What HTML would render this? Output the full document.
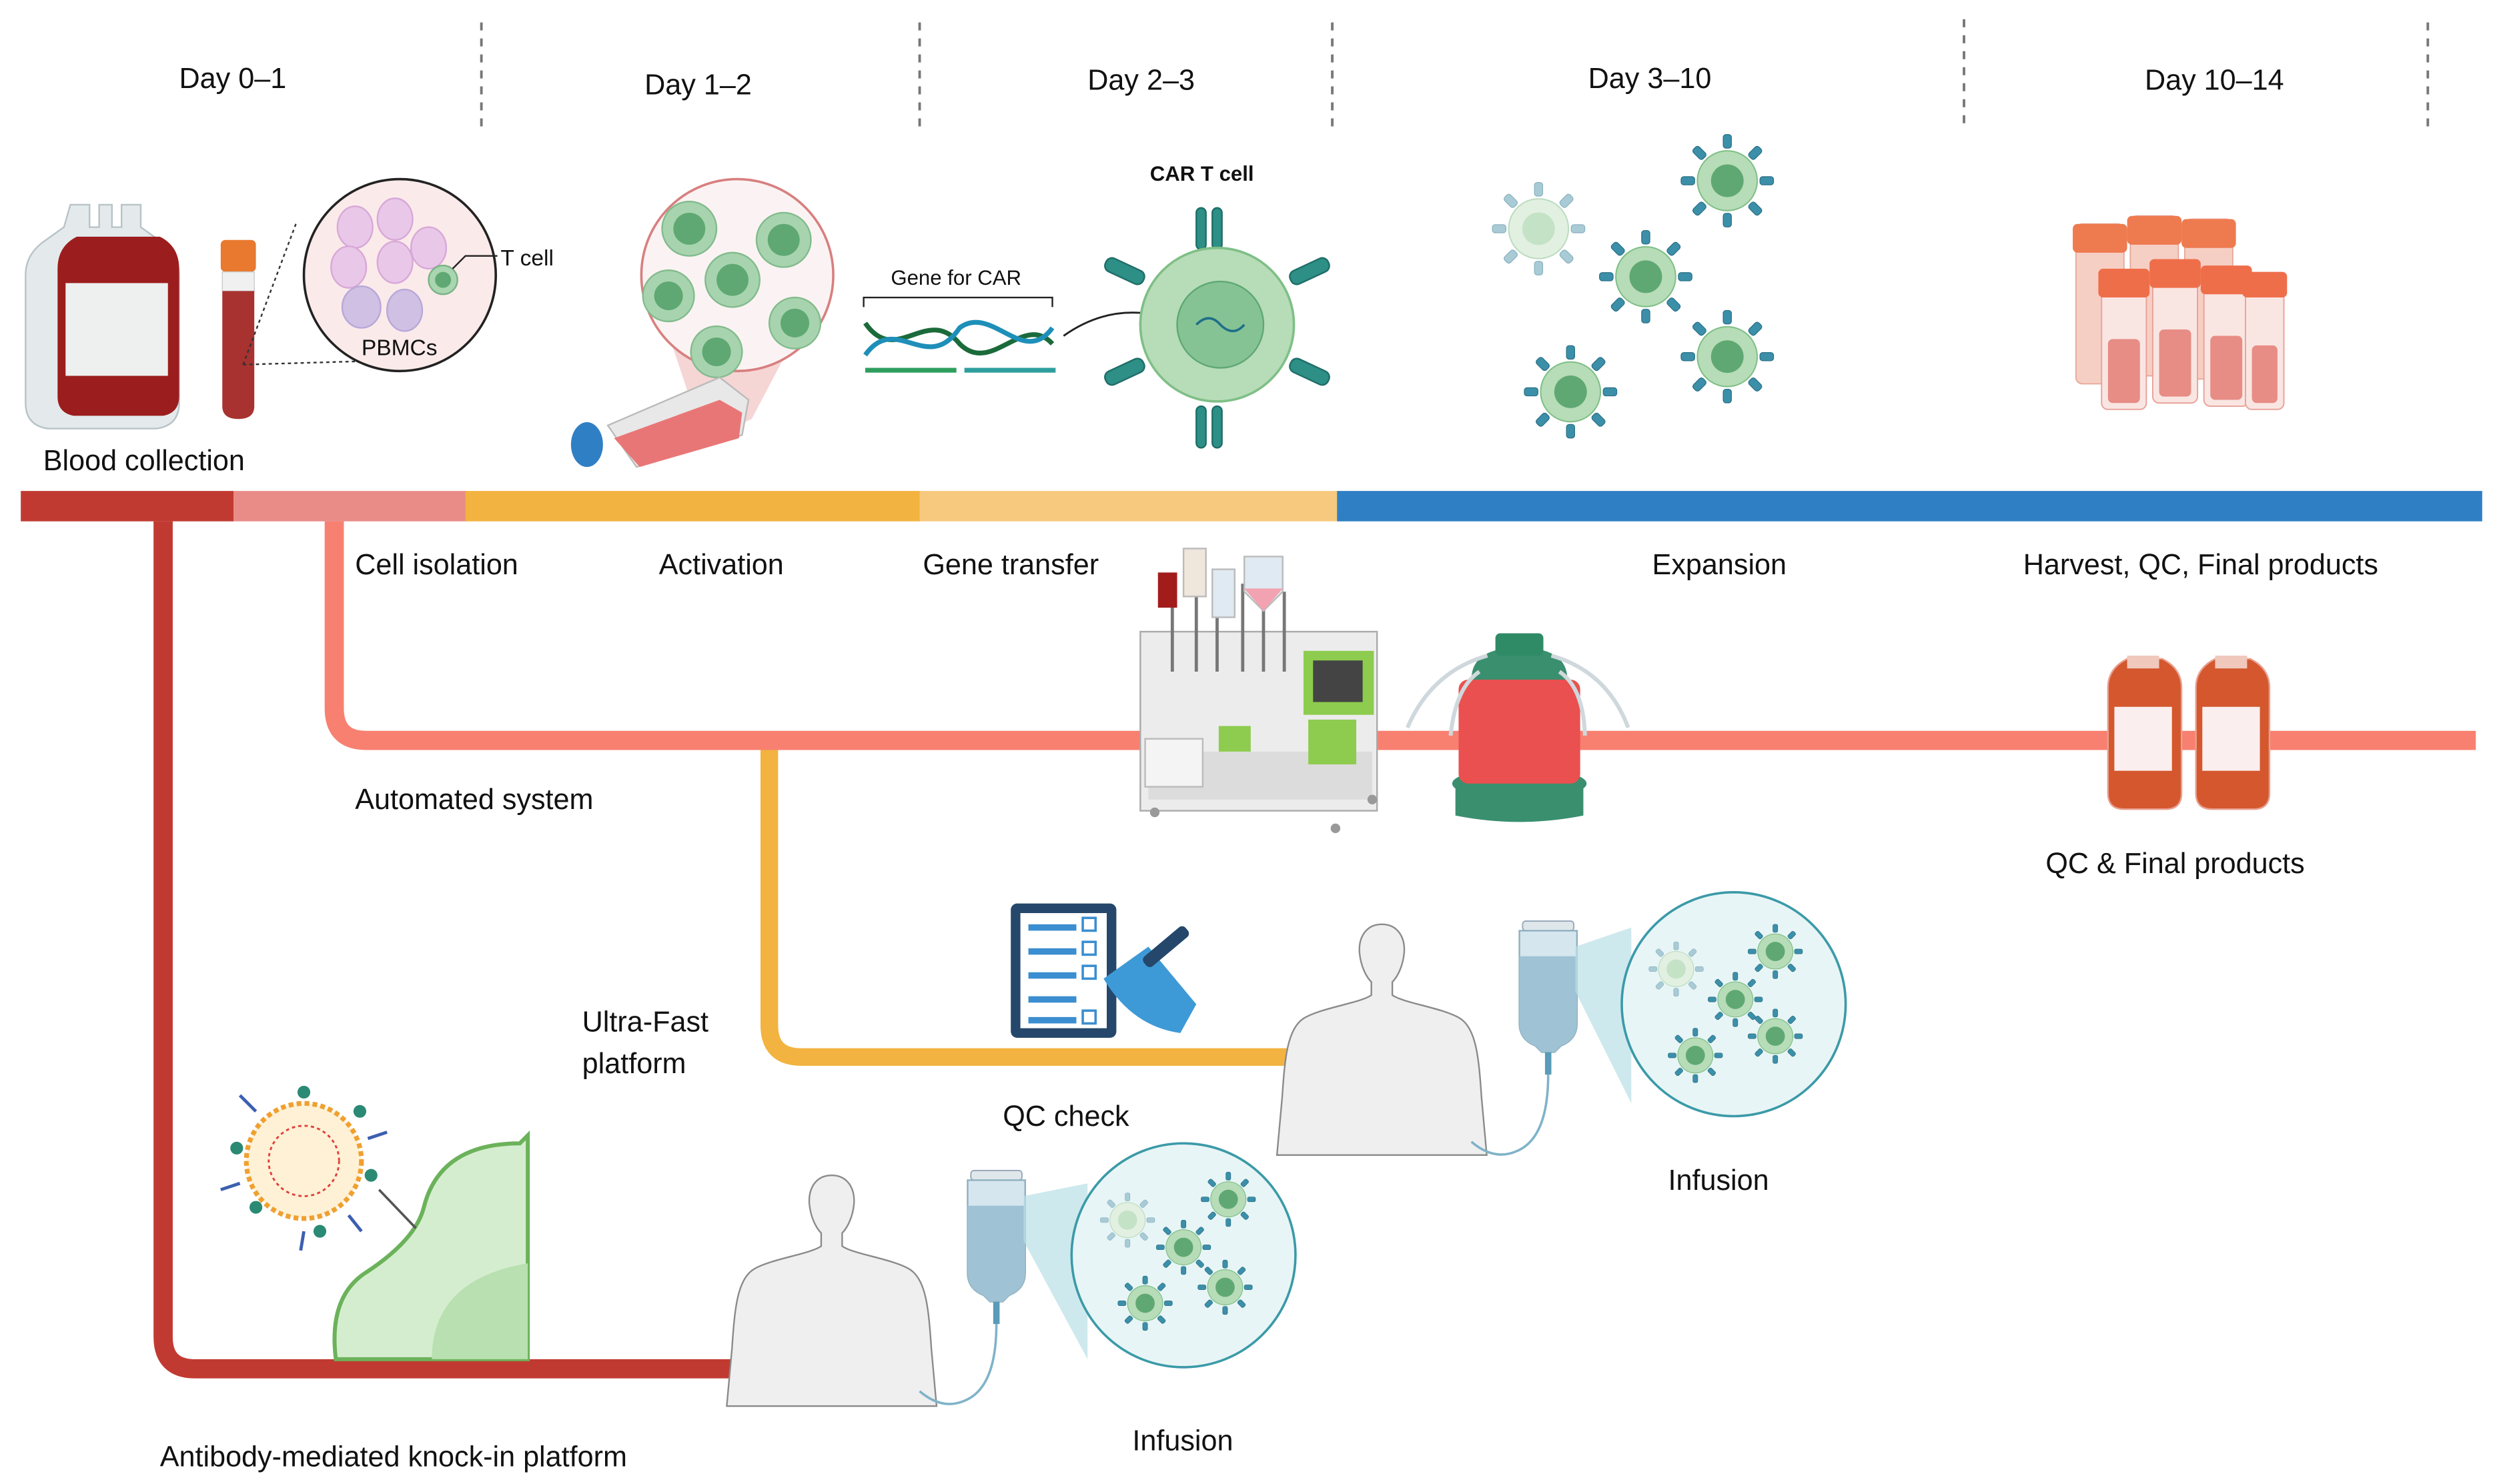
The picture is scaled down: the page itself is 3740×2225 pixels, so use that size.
<!DOCTYPE html>
<html><head><meta charset="utf-8">
<style>
html,body{margin:0;padding:0;background:#fff;}
svg{display:block;}
text{font-family:"Liberation Sans",sans-serif;fill:#111;}
</style></head>
<body>
<svg width="3740" height="2225" viewBox="0 0 1560 928" xmlns="http://www.w3.org/2000/svg">
<defs>
<g id="tc">
  <g fill="#3c8fa8" stroke="#2a6f86" stroke-width="0.6">
    <rect x="-3" y="-34" width="6" height="10" rx="2"/>
    <rect x="-3" y="24" width="6" height="10" rx="2"/>
    <rect x="-34" y="-3" width="10" height="6" rx="2"/>
    <rect x="24" y="-3" width="10" height="6" rx="2"/>
    <rect x="-3" y="-34" width="6" height="10" rx="2" transform="rotate(45)"/>
    <rect x="-3" y="-34" width="6" height="10" rx="2" transform="rotate(135)"/>
    <rect x="-3" y="-34" width="6" height="10" rx="2" transform="rotate(225)"/>
    <rect x="-3" y="-34" width="6" height="10" rx="2" transform="rotate(315)"/>
  </g>
  <circle r="22" fill="#b7dcb8" stroke="#7fbf86" stroke-width="1"/>
  <circle r="12" fill="#5fa873"/>
</g>
<g id="tcl">
  <g fill="#a9cbd6" stroke="#8ab1bf" stroke-width="0.6">
    <rect x="-3" y="-34" width="6" height="10" rx="2"/>
    <rect x="-3" y="24" width="6" height="10" rx="2"/>
    <rect x="-34" y="-3" width="10" height="6" rx="2"/>
    <rect x="24" y="-3" width="10" height="6" rx="2"/>
    <rect x="-3" y="-34" width="6" height="10" rx="2" transform="rotate(45)"/>
    <rect x="-3" y="-34" width="6" height="10" rx="2" transform="rotate(135)"/>
    <rect x="-3" y="-34" width="6" height="10" rx="2" transform="rotate(225)"/>
    <rect x="-3" y="-34" width="6" height="10" rx="2" transform="rotate(315)"/>
  </g>
  <circle r="22" fill="#e2f0e2" stroke="#bcdcbf" stroke-width="1"/>
  <circle r="12" fill="#c4e2c6"/>
</g>
<g id="human">
  <path d="M0,0 c-12,0 -18,10 -17,22 c1,10 5,18 9,22 l0,10 c-8,6 -40,10 -52,18 c-12,8 -14,30 -16,60 l-4,44 l160,0 l-4,-44 c-2,-30 -4,-52 -16,-60 c-12,-8 -44,-12 -52,-18 l0,-10 c4,-4 8,-12 9,-22 c1,-12 -5,-22 -17,-22z" fill="#efefef" stroke="#8a8a8a" stroke-width="1.2"/>
</g>
<g id="ivbag">
  <rect x="-16" y="0" width="32" height="6" rx="2" fill="#dfe7ea" stroke="#9ab" stroke-width="0.8"/>
  <path d="M-18,6 h36 v58 q0,10 -10,14 l-4,4 h-8 l-4,-4 q-10,-4 -10,-14z" fill="#d6e6ee" stroke="#8fb0c0" stroke-width="1"/>
  <path d="M-18,22 h36 v42 q0,10 -10,14 l-4,4 h-8 l-4,-4 q-10,-4 -10,-14z" fill="#9fc2d4"/>
  <rect x="-2" y="82" width="4" height="14" fill="#5a9bb8"/>
</g>
</defs>

<g font-size="18">
<text x="112" y="55">Day 0–1</text>
<text x="403" y="59">Day 1–2</text>
<text x="680" y="56">Day 2–3</text>
<text x="993" y="55">Day 3–10</text>
<text x="1341" y="56">Day 10–14</text>
</g>
<g stroke="#777" stroke-width="1.6" stroke-dasharray="5,5">
<line x1="301" y1="14" x2="301" y2="84"/>
<line x1="575" y1="14" x2="575" y2="84"/>
<line x1="833" y1="14" x2="833" y2="84"/>
<line x1="1228" y1="12" x2="1228" y2="82"/>
<line x1="1518" y1="14" x2="1518" y2="84"/>
</g>

<path d="M102,326 V836 q0,20 20,20 H490" fill="none" stroke="#c13a31" stroke-width="12"/>
<path d="M209,326 V443 q0,20 20,20 H1548" fill="none" stroke="#f88070" stroke-width="12"/>
<path d="M481,469 V641 q0,20 20,20 H822" fill="none" stroke="#f2b340" stroke-width="11"/>

<rect x="13" y="307" width="133" height="19" fill="#c13a31"/>
<rect x="146" y="307" width="146" height="19" fill="#e98c88"/>
<rect x="291" y="307" width="285" height="19" fill="#f2b340"/>
<rect x="575" y="307" width="262" height="19" fill="#f6c97e"/>
<rect x="836" y="307" width="716" height="19" fill="#2f7fc4"/>

<g font-size="18">
<text x="27" y="294">Blood collection</text>
<text x="222" y="359">Cell isolation</text>
<text x="412" y="359">Activation</text>
<text x="577" y="359">Gene transfer</text>
<text x="1033" y="359">Expansion</text>
<text x="1265" y="359">Harvest, QC, Final products</text>
<text x="222" y="506">Automated system</text>
<text x="1279" y="546">QC &amp; Final products</text>
<text x="364" y="645">Ultra-Fast</text>
<text x="364" y="671">platform</text>
<text x="627" y="704">QC check</text>
<text x="1043" y="744">Infusion</text>
<text x="708" y="907">Infusion</text>
<text x="100" y="917">Antibody-mediated knock-in platform</text>
</g>

<path d="M44,128 h12 v14 h6 v-14 h8 v14 h6 v-14 h12 v14 l14,10 q10,8 10,20 v80 q0,14 -14,16 h-68 q-14,-2 -14,-16 v-80 q0,-12 10,-20 l14,-10z" fill="#e4eaec" stroke="#b7c3c7"/>
<path d="M36,168 q0,-14 12,-20 h52 q12,6 12,20 v80 q0,10 -10,12 h-56 q-10,-2 -10,-12z" fill="#9c1d1d"/>
<rect x="41" y="177" width="64" height="58" fill="#eef0f0"/>
<rect x="138" y="150" width="22" height="20" rx="3" fill="#e8792e"/>
<rect x="139" y="170" width="20" height="12" fill="#f0f0f0" stroke="#ccc" stroke-width="0.6"/>
<path d="M139,182 h20 v72 q0,8 -10,8 q-10,0 -10,-8z" fill="#a8322f"/>
<line x1="152" y1="228" x2="222" y2="226" stroke="#333" stroke-dasharray="2,2"/>
<line x1="152" y1="228" x2="185" y2="140" stroke="#333" stroke-dasharray="2,2"/>
<circle cx="250" cy="172" r="60" fill="#fbeaea" stroke="#222" stroke-width="1.5"/>
<g fill="#e9c7e8" stroke="#d7a8d8">
<ellipse cx="222" cy="142" rx="11" ry="13"/><ellipse cx="247" cy="137" rx="11" ry="13"/>
<ellipse cx="268" cy="155" rx="11" ry="13"/><ellipse cx="218" cy="167" rx="11" ry="13"/>
<ellipse cx="247" cy="164" rx="11" ry="13"/></g>
<g fill="#cfc0e4" stroke="#b8a8d8"><ellipse cx="226" cy="192" rx="12" ry="13"/><ellipse cx="253" cy="194" rx="11" ry="13"/></g>
<circle cx="277" cy="175" r="9" fill="#a9d6b0" stroke="#7bb486"/><circle cx="277" cy="175" r="5" fill="#5fa873"/>
<polyline points="283,168 291,160 311,160" fill="none" stroke="#222"/>
<text x="313" y="166" font-size="14">T cell</text>
<text x="226" y="222" font-size="14">PBMCs</text>

<path d="M420,215 L440,275 L470,262 L500,205z" fill="#f2c3c3" opacity="0.7"/>
<circle cx="461" cy="172" r="60" fill="#fbf3f3" stroke="#d87f7f" stroke-width="1.5"/>
<g fill="#a7d4ae" stroke="#82bb8d"><circle cx="431" cy="143" r="17"/><circle cx="490" cy="150" r="17"/><circle cx="458" cy="175" r="17"/><circle cx="418" cy="185" r="16"/><circle cx="497" cy="202" r="16"/><circle cx="448" cy="220" r="16"/></g>
<g fill="#5fa873"><circle cx="431" cy="143" r="10"/><circle cx="490" cy="150" r="10"/><circle cx="458" cy="175" r="10"/><circle cx="418" cy="185" r="9"/><circle cx="497" cy="202" r="9"/><circle cx="448" cy="220" r="9"/></g>
<path d="M380,266 l70,-30 l18,14 l-4,22 l-66,20z" fill="#e8e8e8" stroke="#bbb"/>
<path d="M384,274 l66,-24 l14,8 l-2,16 l-62,18z" fill="#e97676"/>
<ellipse cx="367" cy="278" rx="10" ry="14" fill="#2f7fc4"/>

<text x="557" y="178" font-size="13">Gene for CAR</text>
<path d="M540,192 v-6 h118 v6" fill="none" stroke="#222"/>
<path d="M541,202 C560,230 580,190 600,215 C620,235 640,195 658,215" fill="none" stroke="#1b6b3a" stroke-width="3"/>
<path d="M541,222 C560,195 580,235 600,205 C620,190 640,230 658,205" fill="none" stroke="#1e8fb8" stroke-width="3"/>
<rect x="541" y="230" width="57" height="3" fill="#2e9e5e"/><rect x="603" y="230" width="57" height="3" fill="#2e9e9e"/>
<path d="M665,210 Q700,185 742,203" fill="none" stroke="#222" stroke-width="1.2"/>
<path d="M742,203 l-7,-5 l0,8z" fill="#222"/>
<text x="719" y="113" font-size="13" font-weight="bold">CAR T cell</text>
<g fill="#2d8f86" stroke="#1f6e68">
<rect x="748" y="130" width="6" height="26" rx="3"/><rect x="758" y="130" width="6" height="26" rx="3"/>
<rect x="748" y="254" width="6" height="26" rx="3"/><rect x="758" y="254" width="6" height="26" rx="3"/>
<rect x="690" y="165" width="26" height="9" rx="4" transform="rotate(25 703 170)"/>
<rect x="806" y="165" width="26" height="9" rx="4" transform="rotate(-25 819 170)"/>
<rect x="690" y="228" width="26" height="9" rx="4" transform="rotate(-25 703 232)"/>
<rect x="806" y="228" width="26" height="9" rx="4" transform="rotate(25 819 232)"/>
</g>
<circle cx="761" cy="203" r="48" fill="#b7dcb8" stroke="#7fbf86" stroke-width="1.5"/>
<circle cx="763" cy="203" r="27" fill="#86c394" stroke="#5fa873"/>
<path d="M748,203 q8,-8 15,0 q8,8 15,0" fill="none" stroke="#1e6f8a" stroke-width="1.5"/>

<use href="#tcl" transform="translate(962,143) scale(0.85)"/>
<use href="#tc" transform="translate(1029,173) scale(0.85)"/>
<use href="#tc" transform="translate(1080,113) scale(0.85)"/>
<use href="#tc" transform="translate(982,245) scale(0.85)"/>
<use href="#tc" transform="translate(1080,223) scale(0.85)"/>

<g>
<g fill="#f6cfc4" stroke="#e7a99a" stroke-width="0.8">
<rect x="1298" y="140" width="30" height="100" rx="4"/><rect x="1332" y="135" width="30" height="100" rx="4"/><rect x="1366" y="137" width="30" height="100" rx="4"/>
</g>
<g fill="#ee7a4f"><rect x="1296" y="140" width="34" height="18" rx="3"/><rect x="1330" y="135" width="34" height="18" rx="3"/><rect x="1364" y="137" width="34" height="18" rx="3"/></g>
<g fill="#f9e6e2" stroke="#e9a19a" stroke-width="0.8">
<rect x="1314" y="178" width="28" height="78" rx="4"/><rect x="1346" y="172" width="28" height="80" rx="4"/><rect x="1378" y="176" width="28" height="78" rx="4"/><rect x="1404" y="182" width="24" height="74" rx="4"/>
</g>
<g fill="#ee6e4a"><rect x="1312" y="168" width="32" height="18" rx="3"/><rect x="1344" y="162" width="32" height="18" rx="3"/><rect x="1376" y="166" width="32" height="18" rx="3"/><rect x="1402" y="170" width="28" height="16" rx="3"/></g>
<g fill="#e88c86"><rect x="1318" y="212" width="20" height="40" rx="3"/><rect x="1350" y="206" width="20" height="42" rx="3"/><rect x="1382" y="210" width="20" height="40" rx="3"/><rect x="1408" y="216" width="16" height="36" rx="3"/></g>
</g>

<g>
<rect x="713" y="395" width="148" height="112" fill="#ececec" stroke="#aaa"/>
<rect x="718" y="470" width="140" height="30" fill="#dcdcdc"/>
<rect x="815" y="407" width="44" height="40" fill="#8dcc4f"/><rect x="821" y="413" width="31" height="26" fill="#444"/>
<rect x="818" y="450" width="30" height="28" fill="#8dcc4f"/>
<rect x="762" y="454" width="20" height="16" fill="#8dcc4f"/>
<rect x="716" y="462" width="36" height="30" fill="#f4f4f4" stroke="#bbb"/>
<g stroke="#777" stroke-width="2"><line x1="733" y1="375" x2="733" y2="420"/><line x1="748" y1="365" x2="748" y2="420"/><line x1="761" y1="375" x2="761" y2="420"/><line x1="777" y1="365" x2="777" y2="420"/><line x1="790" y1="365" x2="790" y2="420"/><line x1="803" y1="370" x2="803" y2="420"/></g>
<rect x="724" y="358" width="12" height="22" fill="#a31c1c"/>
<rect x="740" y="343" width="14" height="30" fill="#efe6dc" stroke="#bbb"/>
<rect x="758" y="356" width="14" height="30" fill="#dfeaf3" stroke="#bbb"/>
<path d="M778,348 h24 v22 l-12,12 l-12,-12z" fill="#dfeaf3" stroke="#bbb"/>
<path d="M778,368 h24 l-12,14z" fill="#f2a2b0"/>
<g fill="#999"><circle cx="722" cy="508" r="3"/><circle cx="835" cy="518" r="3"/><circle cx="858" cy="500" r="3"/></g>
</g>
<g>
<path d="M910,490 h80 v20 q-40,8 -80,0z" fill="#3a8f6e"/>
<ellipse cx="950" cy="490" rx="42" ry="10" fill="#3a8f6e"/>
<rect x="912" y="425" width="76" height="65" rx="6" fill="#e9504f"/>
<path d="M920,425 q0,-20 30,-20 q30,0 30,20z" fill="#3a8f6e"/>
<rect x="935" y="396" width="30" height="14" rx="3" fill="#2f8a66"/>
<path d="M930,410 q-35,10 -50,45 M970,410 q35,10 48,45 M925,420 q-15,10 -18,40 M975,420 q15,10 16,40" fill="none" stroke="#cfd8dc" stroke-width="2.5"/>
</g>
<g>
<path d="M1318,430 q0,-12 12,-18 h22 q12,6 12,18 v66 q0,10 -10,10 h-26 q-10,0 -10,-10z" fill="#d4572e" stroke="#e8a090"/>
<rect x="1322" y="442" width="36" height="40" fill="#fbeeee"/>
<rect x="1330" y="410" width="20" height="8" fill="#f0c8bc"/>
<path d="M1373,430 q0,-12 12,-18 h22 q12,6 12,18 v66 q0,10 -10,10 h-26 q-10,0 -10,-10z" fill="#d4572e" stroke="#e8a090"/>
<rect x="1377" y="442" width="36" height="40" fill="#fbeeee"/>
<rect x="1385" y="410" width="20" height="8" fill="#f0c8bc"/>
</g>

<g>
<rect x="632" y="565" width="66" height="84" rx="4" fill="#25476b"/>
<rect x="638" y="571" width="54" height="72" fill="#fff"/>
<g fill="#3b8ed0"><rect x="643" y="578" width="30" height="4"/><rect x="643" y="593" width="30" height="4"/><rect x="643" y="608" width="30" height="4"/><rect x="643" y="623" width="30" height="4"/><rect x="643" y="636" width="30" height="4"/></g>
<g fill="none" stroke="#3b8ed0" stroke-width="1.5"><rect x="677" y="574" width="8" height="8"/><rect x="677" y="589" width="8" height="8"/><rect x="677" y="604" width="8" height="8"/><rect x="677" y="632" width="8" height="8"/></g>
<path d="M690,612 l28,-20 l30,36 l-10,18 q-30,-4 -48,-34z" fill="#3e9ad6"/>
<rect x="712" y="588" width="34" height="8" rx="3" fill="#25476b" transform="rotate(-40 729 592)"/>
</g>

<use href="#human" transform="translate(864,578) scale(0.82)"/>
<use href="#ivbag" transform="translate(968,576)"/>
<path d="M968,672 q0,40 -20,48 q-14,6 -28,-6" fill="none" stroke="#7fb3c9" stroke-width="1.5"/>
<path d="M985,592 L1020,580 L1020,690 L985,620z" fill="#b9dfe6" opacity="0.7"/>
<circle cx="1084" cy="628" r="70" fill="#e8f5f6" stroke="#3b9aa8" stroke-width="1.5"/>
<use href="#tcl" transform="translate(1048,606) scale(0.5)"/>
<use href="#tc" transform="translate(1110,595) scale(0.5)"/>
<use href="#tc" transform="translate(1085,625) scale(0.5)"/>
<use href="#tc" transform="translate(1060,660) scale(0.5)"/>
<use href="#tc" transform="translate(1110,648) scale(0.5)"/>

<path d="M210,850 q-5,-40 20,-55 q30,-20 35,-40 q10,-40 60,-40 l5,-5 v140z" fill="#d5edcf" stroke="#6bb25a" stroke-width="2.5"/>
<path d="M270,850 q0,-50 60,-60 v60z" fill="#b8e0b0"/>
<circle cx="190" cy="726" r="36" fill="#fff1d6" stroke="#f0a030" stroke-width="3" stroke-dasharray="3,2"/>
<circle cx="190" cy="726" r="22" fill="none" stroke="#e0403a" stroke-width="1.2" stroke-dasharray="2,2"/>
<g fill="#2b8a74"><circle cx="148" cy="718" r="4"/><circle cx="232" cy="735" r="4"/><circle cx="190" cy="683" r="4"/><circle cx="200" cy="770" r="4"/><circle cx="160" cy="755" r="4"/><circle cx="225" cy="695" r="4"/></g>
<g stroke="#3c5fb0" stroke-width="2"><line x1="160" y1="695" x2="150" y2="685"/><line x1="218" y1="760" x2="226" y2="770"/><line x1="190" y1="770" x2="188" y2="782"/><line x1="230" y1="712" x2="242" y2="708"/><line x1="150" y1="740" x2="138" y2="744"/></g>
<line x1="237" y1="744" x2="260" y2="768" stroke="#555" stroke-width="1.5"/>

<use href="#human" transform="translate(520,735) scale(0.82)"/>
<use href="#ivbag" transform="translate(623,732)"/>
<path d="M623,828 q0,40 -20,48 q-14,6 -28,-6" fill="none" stroke="#7fb3c9" stroke-width="1.5"/>
<path d="M640,748 L680,740 L680,850 L640,776z" fill="#b9dfe6" opacity="0.7"/>
<circle cx="740" cy="785" r="70" fill="#e8f5f6" stroke="#3b9aa8" stroke-width="1.5"/>
<use href="#tcl" transform="translate(705,763) scale(0.5)"/>
<use href="#tc" transform="translate(768,750) scale(0.5)"/>
<use href="#tc" transform="translate(740,780) scale(0.5)"/>
<use href="#tc" transform="translate(716,815) scale(0.5)"/>
<use href="#tc" transform="translate(766,805) scale(0.5)"/>
</svg>
</body></html>
